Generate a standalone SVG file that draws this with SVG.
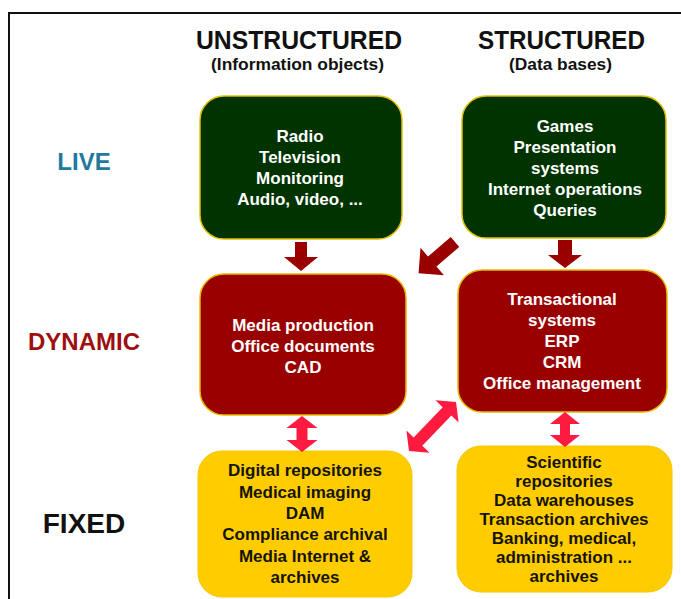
<svg xmlns="http://www.w3.org/2000/svg" width="681" height="599" viewBox="0 0 681 599">
<style>
.t{font-family:"Liberation Sans",Arial,sans-serif;font-weight:bold;text-anchor:middle}
.bx{font-size:17px}
.w{fill:#ffffff}
.k{fill:#141400}
.g{fill:#003300;stroke:#e0c000;stroke-width:1.5}
.r{fill:#990000;stroke:#e8b800;stroke-width:1.5}
.y{fill:#ffcc00;stroke:#f5c800;stroke-width:1}
.da{fill:#990000}
.ra{fill:#ff1a40}
</style>
<rect width="681" height="599" fill="#ffffff"/>
<g id="frame" fill="none" stroke="#111" stroke-width="2">
<path d="M9 599 V13 H681"/>
</g>
<g id="headers">
<text class="t" x="299" y="49" font-size="25" textLength="206" lengthAdjust="spacingAndGlyphs" fill="#111">UNSTRUCTURED</text>
<text class="t" x="297.5" y="70" font-size="17" textLength="173" lengthAdjust="spacingAndGlyphs" fill="#111">(Information objects)</text>
<text class="t" x="561.5" y="49" font-size="25" textLength="167" lengthAdjust="spacingAndGlyphs" fill="#111">STRUCTURED</text>
<text class="t" x="560.5" y="70" font-size="17" textLength="103" lengthAdjust="spacingAndGlyphs" fill="#111">(Data bases)</text>
</g>
<g id="rowlabels">
<text class="t" x="84" y="170" font-size="24" fill="#1f7a9e">LIVE</text>
<text class="t" x="84" y="350" font-size="24" fill="#9e1010">DYNAMIC</text>
<text class="t" x="84" y="533" font-size="28" fill="#111">FIXED</text>
</g>
<g id="live-unstructured">
<rect class="g" x="200" y="96" width="202" height="143" rx="24"/>
<text class="t bx w" x="300" y="142">Radio</text>
<text class="t bx w" x="300" y="163">Television</text>
<text class="t bx w" x="300" y="184">Monitoring</text>
<text class="t bx w" x="300" y="205">Audio, video, ...</text>
</g>
<g id="live-structured">
<rect class="g" x="462" y="96" width="204" height="142" rx="24"/>
<text class="t bx w" x="565" y="132">Games</text>
<text class="t bx w" x="565" y="153">Presentation</text>
<text class="t bx w" x="565" y="174">systems</text>
<text class="t bx w" x="565" y="195">Internet operations</text>
<text class="t bx w" x="565" y="216">Queries</text>
</g>
<g id="dynamic-unstructured">
<rect class="r" x="200" y="274" width="206" height="141" rx="24"/>
<text class="t bx w" x="303" y="331">Media production</text>
<text class="t bx w" x="303" y="352">Office documents</text>
<text class="t bx w" x="303" y="373">CAD</text>
</g>
<g id="dynamic-structured">
<rect class="r" x="458" y="270" width="209" height="142" rx="24"/>
<text class="t bx w" x="562" y="305">Transactional</text>
<text class="t bx w" x="562" y="326">systems</text>
<text class="t bx w" x="562" y="347">ERP</text>
<text class="t bx w" x="562" y="368">CRM</text>
<text class="t bx w" x="562" y="389">Office management</text>
</g>
<g id="fixed-unstructured">
<rect class="y" x="198" y="451" width="214" height="146" rx="24"/>
<text class="t bx k" x="305" y="476">Digital repositories</text>
<text class="t bx k" x="305" y="497.5">Medical imaging</text>
<text class="t bx k" x="305" y="519">DAM</text>
<text class="t bx k" x="305" y="540">Compliance archival</text>
<text class="t bx k" x="305" y="561.5">Media Internet &amp;</text>
<text class="t bx k" x="305" y="583">archives</text>
</g>
<g id="fixed-structured">
<rect class="y" x="457" y="446" width="215" height="146" rx="24"/>
<text class="t bx k" x="564" y="468">Scientific</text>
<text class="t bx k" x="564" y="487">repositories</text>
<text class="t bx k" x="564" y="506">Data warehouses</text>
<text class="t bx k" x="564" y="525">Transaction archives</text>
<text class="t bx k" x="564" y="544">Banking, medical,</text>
<text class="t bx k" x="564" y="563">administration ...</text>
<text class="t bx k" x="564" y="582">archives</text>
</g>
<g id="connectors">
<polygon class="da" points="295,242 307,242 307,257 318,257 301,271 284,257 295,257"/>
<polygon class="da" points="558,240 572,240 572,255 582,255 565,268 548,255 558,255"/>
<polygon class="da" points="0,-6.5 30,-6.5 30,-18 48,0 30,18 30,6.5 0,6.5" transform="translate(455 242) rotate(139.4)"/>
<polygon class="ra" points="302,416 317.5,428 307.5,428 307.5,440 317.5,440 302,452 286.5,440 296.5,440 296.5,428 286.5,428"/>
<polygon class="ra" points="565,412 580,424 570,424 570,435 580,435 565,447 550,435 560,435 560,424 550,424"/>
<polygon class="ra" points="-34,0 -21,-16 -21,-6 21,-6 21,-16 34,0 21,16 21,6 -21,6 -21,16" transform="translate(432.5 426.5) rotate(-46.2)"/>
</g>
</svg>
